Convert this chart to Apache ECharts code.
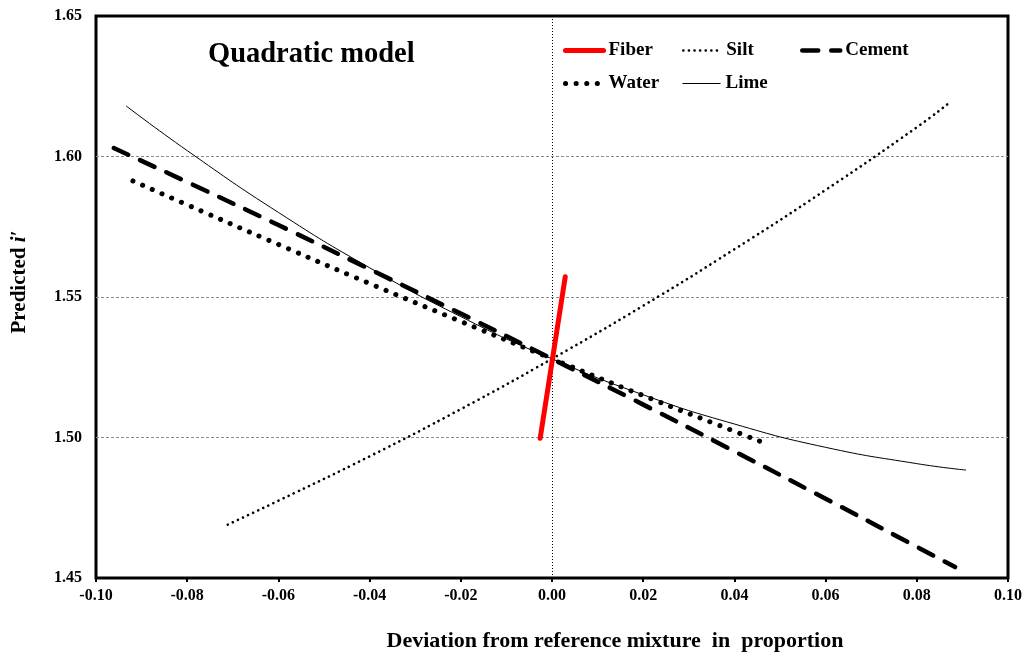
<!DOCTYPE html>
<html>
<head>
<meta charset="utf-8">
<title>Quadratic model</title>
<script src="https://cdn.jsdelivr.net/npm/echarts/dist/echarts.min.js"></script>
<style>
  html, body { margin: 0; padding: 0; background: #fff; }
  #chart { width: 1030px; height: 668px; }
</style>
</head>
<body>
<div id="chart"></div>
<script>
// Deviation from the reference mixture (x) and predicted i' (y) per component
const fiberX  = [-0.0026, 0.0029];
const fiberY  = [1.4997, 1.5572];

const siltX   = [-0.0711, -0.06, -0.04, -0.02, 0.00, 0.02, 0.04, 0.06, 0.08, 0.0868];
const siltY   = [1.469, 1.4775, 1.4933, 1.5101, 1.528, 1.5469, 1.567, 1.5881, 1.6104, 1.6187];

const cementX = [-0.0961, -0.08, -0.06, -0.04, -0.02, 0.00, 0.02, 0.04, 0.06, 0.08, 0.0884];
const cementY = [1.603, 1.5909, 1.5756, 1.5599, 1.5441, 1.528, 1.5117, 1.4951, 1.4782, 1.4611, 1.4539];

const waterX  = [-0.0919, -0.08, -0.06, -0.04, -0.02, 0.00, 0.02, 0.04, 0.0467];
const waterY  = [1.5913, 1.5828, 1.5687, 1.5548, 1.5413, 1.528, 1.5149, 1.5022, 1.498];

const limeX   = [-0.0934, -0.08, -0.06, -0.04, -0.02, 0.00, 0.02, 0.04, 0.06, 0.08, 0.0908];
const limeY   = [1.618, 1.6021, 1.5801, 1.5604, 1.543, 1.528, 1.5152, 1.5048, 1.4965, 1.4907, 1.4884];

const xTicks = { min: -0.10, max: 0.10, step: 0.02 };
const yTicks = { min: 1.45, max: 1.65, step: 0.05 };

const SERIF = "'Liberation Serif', 'Times New Roman', serif";

function pairs(xs, ys) {
  return xs.map((x, i) => [x, ys[i]]);
}

// line looks shared by each series and its legend entry
const looks = {
  Fiber:  { color: '#ff0000', width: 5,   type: 'solid',      cap: 'round' },
  Silt:   { color: '#000',    width: 2.6, type: [0.1, 5.5],   cap: 'round' },
  Cement: { color: '#000',    width: 4.5, type: [16, 13],     cap: 'round' },
  Water:  { color: '#000',    width: 5,   type: [0.1, 10.5],  cap: 'round' },
  Lime:   { color: '#000',    width: 1,   type: 'solid',      cap: 'butt' }
};

const chart = echarts.init(document.getElementById('chart'), null, { renderer: 'canvas' });

// one legend block per entry so the two rows line up in columns
const legendSlots = [
  { name: 'Fiber',  left: 563, top: 41 },
  { name: 'Silt',   left: 682, top: 41 },
  { name: 'Cement', left: 800, top: 41 },
  { name: 'Water',  left: 563, top: 74 },
  { name: 'Lime',   left: 682, top: 74 }
];

const legends = legendSlots.map(s => ({
  data: [s.name],
  left: s.left,
  top: s.top,
  padding: 0,
  orient: 'horizontal',
  itemWidth: 38,
  itemHeight: 16,
  itemGap: 0,
  selectedMode: false,
  itemStyle: { opacity: 0 },
  lineStyle: Object.assign({ opacity: 1 }, looks[s.name]),
  textStyle: { fontFamily: SERIF, fontWeight: 'bold', fontSize: 19, color: '#000' }
}));

const option = {
  animation: false,
  backgroundColor: '#fff',
  textStyle: { fontFamily: SERIF },
  grid: {
    left: 96, right: 22, top: 16, bottom: 90,
    show: true, borderColor: '#000', borderWidth: 3, backgroundColor: 'transparent'
  },
  title: {
    text: 'Quadratic model',
    left: 203, top: 35,
    textStyle: { fontFamily: SERIF, fontWeight: 'bold', fontSize: 28.5, color: '#000' }
  },
  legend: legends,
  xAxis: {
    type: 'value',
    min: xTicks.min, max: xTicks.max, interval: xTicks.step,
    name: 'Deviation from reference mixture  in  proportion',
    nameLocation: 'middle',
    nameGap: 52,
    nameTextStyle: { fontFamily: SERIF, fontWeight: 'bold', fontSize: 22, color: '#000', padding: [0, 0, 0, 126] },
    axisLine: { show: false },
    axisTick: { show: true, inside: false, length: 4, lineStyle: { color: '#000', width: 2 } },
    axisLabel: {
      fontFamily: SERIF, fontWeight: 'bold', fontSize: 16, color: '#000', margin: 10,
      formatter: v => v.toFixed(2)
    },
    splitLine: { show: false }
  },
  yAxis: {
    type: 'value',
    min: yTicks.min, max: yTicks.max, interval: yTicks.step,
    name: '{b|Predicted }{i|i′}',
    nameLocation: 'middle',
    nameRotate: 90,
    nameGap: 66,
    nameTextStyle: {
      padding: [0, 0, 0, 30],
      rich: {
        b: { fontFamily: SERIF, fontWeight: 'bold', fontSize: 21, color: '#000' },
        i: { fontFamily: SERIF, fontWeight: 'bold', fontStyle: 'italic', fontSize: 21, color: '#000' }
      }
    },
    axisLine: { show: false },
    axisTick: { show: false },
    axisLabel: {
      fontFamily: SERIF, fontWeight: 'bold', fontSize: 16, color: '#000', margin: 14,
      formatter: v => v.toFixed(2)
    },
    splitLine: {
      show: true, showMinLine: false, showMaxLine: false,
      lineStyle: { color: '#8c8c8c', width: 1, type: [3, 2] }
    }
  },
  series: [
    {
      name: 'Lime', type: 'line', data: pairs(limeX, limeY),
      smooth: true, symbol: 'none', z: 2,
      lineStyle: looks.Lime,
      itemStyle: { color: '#000' },
      markLine: {
        silent: true, symbol: 'none', label: { show: false },
        lineStyle: { color: '#000', width: 1, type: [1, 2] },
        data: [{ xAxis: 0 }]
      }
    },
    {
      name: 'Silt', type: 'line', data: pairs(siltX, siltY),
      smooth: true, symbol: 'none', z: 3,
      lineStyle: looks.Silt,
      itemStyle: { color: '#000' }
    },
    {
      name: 'Water', type: 'line', data: pairs(waterX, waterY),
      smooth: true, symbol: 'none', z: 4,
      lineStyle: looks.Water,
      itemStyle: { color: '#000' }
    },
    {
      name: 'Cement', type: 'line', data: pairs(cementX, cementY),
      smooth: true, symbol: 'none', z: 5,
      lineStyle: looks.Cement,
      itemStyle: { color: '#000' }
    },
    {
      name: 'Fiber', type: 'line', data: pairs(fiberX, fiberY),
      symbol: 'none', z: 6,
      lineStyle: looks.Fiber,
      itemStyle: { color: '#ff0000' }
    }
  ]
};

chart.setOption(option);
</script>
</body>
</html>
